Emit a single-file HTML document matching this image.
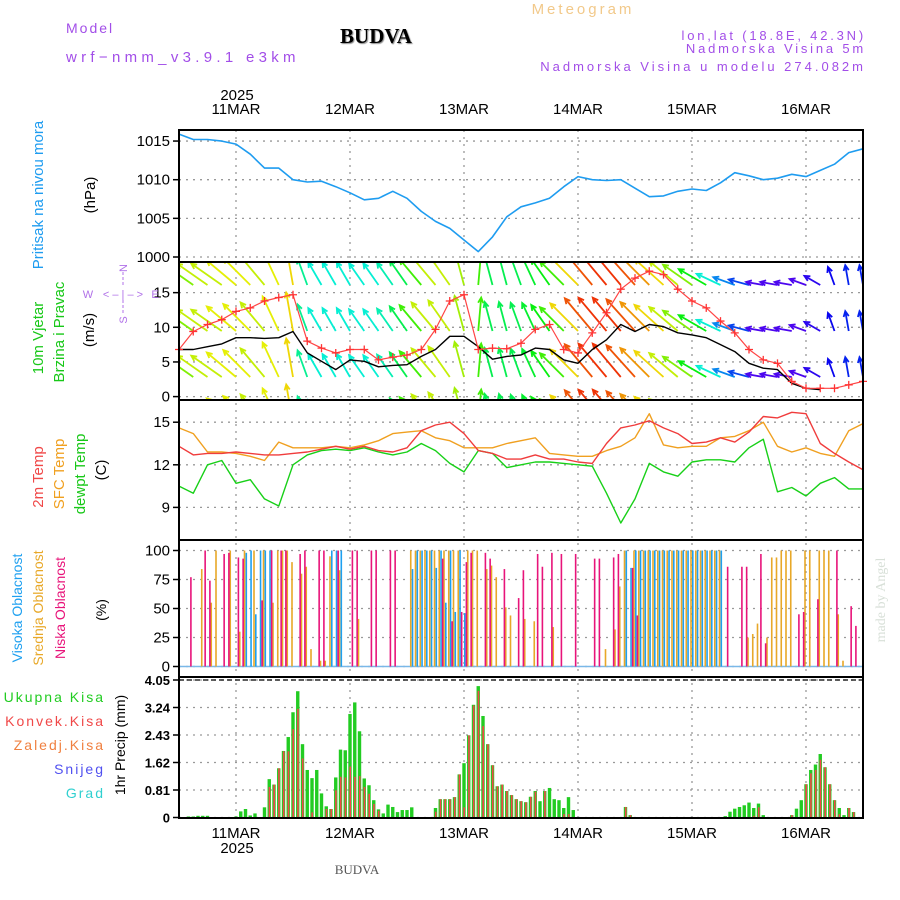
<!DOCTYPE html>
<html><head><meta charset="utf-8"><style>
body{margin:0;background:#fff;}
svg{display:block;font-family:"Liberation Sans",sans-serif;}
</style></head><body>
<svg id="chart" width="900" height="900" viewBox="0 0 900 900" xmlns="http://www.w3.org/2000/svg">
<defs><clipPath id="wclip"><rect x="179" y="263" width="684" height="136"/></clipPath></defs>
<g id="hdr">
<text x="66" y="33" font-size="14" fill="#a24ee8" letter-spacing="2">Model</text>
<text x="66" y="62" font-size="15" fill="#a24ee8" letter-spacing="4.3">wrf−nmm_v3.9.1 e3km</text>
<text x="376" y="43" font-size="21" font-weight="bold" font-family="Liberation Serif,serif" text-anchor="middle" fill="#000" style="text-shadow:1px 1px 1px #888">BUDVA</text>
<text x="583" y="14" font-size="15" fill="#f2c98a" text-anchor="middle" letter-spacing="3">Meteogram</text>
<text x="866" y="40" font-size="13" fill="#a24ee8" text-anchor="end" letter-spacing="2.8">lon,lat (18.8E, 42.3N)</text>
<text x="866" y="53" font-size="13" fill="#a24ee8" text-anchor="end" letter-spacing="2.8">Nadmorska Visina 5m</text>
<text x="866" y="71" font-size="13" fill="#a24ee8" text-anchor="end" letter-spacing="3">Nadmorska Visina u modelu 274.082m</text>
<text x="237" y="100" font-size="15" text-anchor="middle">2025</text>
<text x="237" y="853" font-size="15" text-anchor="middle">2025</text>
<text x="357" y="874" font-size="13" fill="#555" font-family="Liberation Serif,serif" text-anchor="middle">BUDVA</text>
<text transform="translate(885,600) rotate(-90)" font-size="14" fill="#d8e0d8" font-family="Liberation Serif,serif" text-anchor="middle">made by Angel</text>
</g>
<g id="labels"></g>
<g id="grid"></g>
<g id="marks"></g>
<g id="frames"></g>
</svg>
<script>
const dayLabels = ["11MAR","12MAR","13MAR","14MAR","15MAR","16MAR"];
const dayHours = [12,36,60,84,108,132];
const pressure = [1015.9,1015.2,1015.2,1015.0,1014.6,1013.3,1011.5,1011.5,1010.0,1009.7,1009.8,1009.1,1008.3,1007.4,1007.6,1008.5,1007.6,1005.9,1004.6,1003.7,1002.2,1000.7,1002.6,1005.2,1006.5,1007.0,1007.6,1009.1,1010.4,1010.0,1009.9,1010.0,1008.9,1007.8,1007.9,1008.5,1008.8,1008.6,1009.6,1010.9,1010.5,1010.0,1010.2,1010.7,1010.4,1011.2,1012.0,1013.5,1014.0];
const gust = [6.8,9.4,10.4,11.1,12.3,12.8,13.8,14.3,14.7,8.0,7.0,6.3,6.8,6.8,5.3,5.7,6.0,6.8,9.7,13.8,14.7,6.8,7.0,6.9,7.7,9.7,10.4,6.8,6.3,9.2,12.1,15.5,17.1,18.1,17.6,15.5,13.8,12.8,10.9,9.2,6.8,5.3,4.8,2.2,1.2,1.2,1.2,1.7,2.2];
const wspd = [6.8,6.8,7.2,7.6,8.5,8.5,8.4,8.5,9.4,6.3,5.1,3.9,5.3,5.1,4.3,4.5,4.6,5.8,6.8,8.7,8.7,7.2,5.4,5.8,6.0,7.0,6.8,5.3,4.8,6.8,8.2,10.4,9.4,10.4,10.1,9.2,8.9,8.5,7.5,6.5,4.8,4.1,3.9,1.9,1.2,1.0,null,null,null];
const windDir = [-55,-55,-55,-55,-50,-45,-40,-25,-10,-20,-30,-30,-30,-35,-35,-35,-35,-40,-40,-35,-15,5,-15,-15,-20,-25,-35,-45,-45,-40,-40,-40,-42,-45,-48,-50,-55,-60,-65,-70,-75,-80,-80,-80,-70,-60,-20,-10,-10];
const arrowSpd = [12,13,14,14,14.5,14.5,14,14.5,15,9,8,8,8,8,8,8.5,10,12,14,14,13.5,12,10,10,10,10.5,11,12,15,17,17.5,17.5,17,16,15,14,13,11,8,6,5,3,3,3,3,3.5,4,4.5,4.5];
const t2m = [13.3,12.7,12.8,12.8,12.9,12.8,12.7,12.7,12.8,12.9,13.1,13.3,13.1,13.3,13.0,12.9,13.2,14.4,14.8,15.0,14.2,13.0,12.8,12.4,12.4,12.7,12.4,12.4,12.2,12.1,13.5,14.6,14.8,15.1,14.6,14.2,13.5,13.6,13.9,13.6,14.3,15.4,15.3,15.7,15.6,13.5,12.8,12.2,11.65];
const tsfc = [14.6,14.2,12.9,12.9,12.8,12.6,12.3,13.6,13.2,13.2,13.2,13.3,13.2,13.4,13.7,14.2,14.3,14.4,13.9,13.7,13.2,13.2,13.2,13.5,13.7,13.9,12.8,12.7,12.6,12.6,13.0,13.3,13.9,15.6,13.4,13.2,13.3,13.3,13.9,14.0,14.4,15.0,13.3,12.9,13.2,12.8,12.6,14.4,14.9];
const tdew = [10.5,10.0,12.0,12.3,10.7,10.95,9.6,9.1,12.0,12.7,13.0,13.1,13.0,13.2,12.9,12.7,12.9,13.5,13.0,12.1,11.5,13.0,12.8,11.8,12.0,12.2,12.2,12.1,12.0,11.9,10.0,7.9,9.6,12.1,11.5,11.2,12.2,12.35,12.35,12.2,13.2,13.8,10.1,10.4,9.8,10.7,11.1,10.3,10.3];
const highHours = [14,15,16,17,18,19,32,33,34,49,50,51,52,53,54,55,56,57,58,59,60,94,95,96,97,98,99,100,101,102,103,104,105,106,107,108,109,110,111,112,113,114];
const highVals  = [98,100,45,100,100,100,100,100,100,84,100,100,100,100,85,100,55,100,47,100,46,100,85,100,100,100,100,100,100,100,100,100,100,100,100,100,100,100,100,100,100,100];
const midHours = [5,7,8,11,13,14,16,18,20,21,22,23,24,26,27,28,30,31,32,34,38,49,50,51,52,53,54,55,56,57,58,59,61,62,63,65,66,67,69,70,73,75,79,90,92,93,94,96,97,98,99,100,101,102,103,104,105,106,107,108,109,110,111,112,113,114,120,121,122,124,125,126,127,128,129,132,133,135,136,137,139,140];
const midVals  = [84,55,100,100,30,100,100,100,55,100,100,100,90,80,86,15,5,5,95,83,41,100,100,100,100,100,100,100,100,100,100,100,100,100,100,84,87,77,51,44,41,39,34,15,32,69,100,100,100,100,100,100,100,100,100,100,100,100,100,100,100,100,100,100,100,100,25,28,37,25,94,94,100,100,100,100,100,100,100,100,45,5];
const lowHours = [2,5,6,9,10,12,13,17,19,21,22,25,26,29,30,33,36,37,40,41,44,45,55,57,59,60,61,64,65,68,71,72,75,76,78,80,83,87,88,91,92,95,96,115,118,119,122,123,130,131,134,138,141,142];
const lowVals  = [77,100,74,97,98,94,93,57,100,100,100,97,100,100,100,100,100,100,100,100,100,100,93,39,47,90,98,98,93,84,59,83,97,86,98,97,97,93,93,94,97,85,44,86,86,86,97,20,45,47,58,100,52,35];
const precipHours = [2,3,4,5,6,12,13,14,15,16,18,19,20,21,22,23,24,25,26,27,28,29,30,31,32,33,34,35,36,37,38,39,40,41,42,43,44,45,46,47,48,49,54,55,56,57,58,59,60,61,62,63,64,65,66,67,68,69,70,71,72,73,74,75,76,77,78,79,80,81,82,83,88,94,95,115,116,117,118,119,120,121,122,123,129,130,131,132,133,134,135,136,137,138,139,140,141,142];
const precipTotal = [0.03,0.03,0.05,0.05,0.05,0.03,0.18,0.25,0.06,0.12,0.3,1.13,0.97,1.45,1.96,2.37,3.1,3.72,2.16,1.4,1.16,1.4,0.71,0.33,0.25,1.18,2.0,1.98,3.05,3.39,2.54,1.15,0.95,0.51,0.24,0.12,0.38,0.31,0.16,0.22,0.22,0.3,0.28,0.54,0.54,0.54,0.6,1.27,1.6,2.42,3.32,3.87,2.99,2.16,1.54,0.92,0.97,0.78,0.66,0.54,0.48,0.45,0.61,0.78,0.48,0.78,0.87,0.54,0.51,0.28,0.6,0.22,0.01,0.31,0.07,0.04,0.17,0.26,0.31,0.36,0.44,0.28,0.41,0.07,0.07,0.26,0.51,0.98,1.4,1.56,1.87,1.48,0.98,0.51,0.28,0.07,0.28,0.16];
const precipConv = [0,0,0,0,0,0,0,0,0,0,0,0.9,0.97,1.45,1.95,1.95,2.6,3.2,1.74,0,0.15,0,0,0.25,0.25,0.8,1.2,1.18,1.5,1.2,1.22,0.9,0.7,0.4,0.2,0,0,0,0,0,0,0,0.17,0.54,0.54,0.54,0.6,1.27,0.3,2.42,3.3,3.73,2.69,2.16,1.54,0.92,0.97,0.78,0.66,0.54,0.48,0.45,0.61,0.76,0,0.78,0,0,0,0.1,0.1,0,0.01,0.31,0.07,0,0,0,0,0,0,0.05,0.3,0,0.07,0,0,0.98,1.3,1.4,1.7,1.48,0.98,0.51,0.1,0,0.28,0.16];
const pTicks=[1000,1005,1010,1015], wTicks=[0,5,10,15], tTicks=[9,12,15], cTicks=[0,25,50,75,100], rTicks=[0,0.81,1.62,2.43,3.24,4.05];

const NS="http://www.w3.org/2000/svg";
function mk(parent,tag,attrs,txt){const e=document.createElementNS(NS,tag);for(const k in attrs)e.setAttribute(k,attrs[k]);if(txt!==undefined)e.textContent=txt;parent.appendChild(e);return e;}
const X0=179,X1=863,HRS=144;
const xh=i=>X0+i*(X1-X0)/HRS;
const xk=k=>xh(k*3);
const yP=v=>257-(v-1000)*7.73;
const yW=v=>396.6-v*6.93;
const yT=v=>464.8-(v-12)*14.2;
const yC=v=>666.5-v*1.16;
const yR=v=>817.5-v*33.95;
const grid=document.getElementById('grid'),marks=document.getElementById('marks'),frames=document.getElementById('frames'),labels=document.getElementById('labels');
const panels=[[130,262],[262,400],[400,540],[540,677],[677,818]];
dayHours.forEach((h,j)=>{
  const l=mk(grid,'line',{x1:xh(h),x2:xh(h),y1:130,y2:818,stroke:'#999','stroke-dasharray':'2,5','stroke-width':1.3});
  
  
  const t=mk(labels,'text',{x:xh(h),y:114,'font-size':15,'text-anchor':'middle'},dayLabels[j]);
  
  
  const b=mk(labels,'text',{x:xh(h),y:838,'font-size':15,'text-anchor':'middle'},dayLabels[j]);
  
  
});
function yaxis(ticks,fy,fmt,name,bold){
  ticks.forEach(v=>{
    const y=fy(v);
    const g=mk(grid,'line',{x1:X0,x2:X1,y1:y,y2:y,stroke:'#999','stroke-dasharray':'2,5','stroke-width':1.3});
    
    
    mk(frames,'line',{x1:X0-6,x2:X0,y1:y,y2:y,stroke:'#000','stroke-width':1.5});
    const t=mk(labels,'text',{x:X0-9,y:y+5,'font-size':bold?13:15,'font-weight':bold?'bold':'normal','text-anchor':'end'},fmt(v));
    
    
  });
}
yaxis(pTicks,yP,v=>v,'pressure');
yaxis(wTicks,yW,v=>v,'wind');
yaxis(tTicks,yT,v=>v,'temp');
yaxis(cTicks,yC,v=>v,'cloud');
yaxis(rTicks,yR,v=>v===0?'0':v.toFixed(2),'precip',true);
panels.forEach(p=>{
  const r=mk(frames,'rect',{x:X0,y:p[0],width:X1-X0,height:p[1]-p[0],fill:'none',stroke:'#000','stroke-width':2});
  
  
});
mk(frames,'line',{x1:X0,x2:X1,y1:680,y2:680,stroke:'#000','stroke-dasharray':'5,3','stroke-width':1.2});
function line(arr,fx,fy,color,name,w){
  let d='';let pen=false;
  arr.forEach((v,k)=>{if(v===null){pen=false;return;}d+=(pen?'L':'M')+fx(k).toFixed(1)+','+fy(v).toFixed(1);pen=true;});
  const p=mk(marks,'path',{d:d,fill:'none',stroke:color,'stroke-width':w||1.5,'stroke-linejoin':'round'});
  
  
  return p;
}
line(pressure,xk,yP,'#1e9cf0','pressure-line',1.6);
const wg=mk(marks,'g',{'clip-path':'url(#wclip)'});


const rows=[285,331,377,423];
rows.forEach(by=>{
  windDir.forEach((d,k)=>{
    const s=arrowSpd[k];
    const hue=Math.max(0,Math.min(275,275-(s-2)*17));
    const col='hsl('+hue+',95%,48%)';
    const len=12+s*1.8, a=d*Math.PI/180;
    const x=xk(k),tx=x+len*Math.sin(a),ty=by-len*Math.cos(a);
    const ah=6,b1=a+Math.PI-0.45,b2=a+Math.PI+0.45;
    const g=mk(wg,'path',{d:`M${x},${by}L${tx},${ty}M${tx+ah*Math.sin(b1)},${ty-ah*Math.cos(b1)}L${tx},${ty}L${tx+ah*Math.sin(b2)},${ty-ah*Math.cos(b2)}`,stroke:col,'stroke-width':1.8,fill:'none'});
    
    
  });
});
line(wspd,xk,yW,'#000','wind-speed-line',1.4);
line(gust,xk,yW,'#f44','wind-gust-line',1.2);
gust.forEach((v,k)=>{
  const x=xk(k),y=yW(v);
  const m=mk(marks,'path',{d:`M${x-4},${y}H${x+4}M${x},${y-4}V${y+4}`,stroke:'#f33','stroke-width':1.3});
  
  
});
line(tdew,xk,yT,'#18d018','dewpoint-line',1.4);
line(tsfc,xk,yT,'#f0a020','sfc-temp-line',1.4);
line(t2m,xk,yT,'#f03c3c','t2m-line',1.4);
mk(marks,'line',{x1:X0,x2:X1,y1:666.5,y2:666.5,stroke:'#7ab8e8','stroke-width':1.5});
function bars(hours,vals,off,color,name){
  hours.forEach((h,j)=>{
    const x=xh(h)+off;
    const r=mk(marks,'rect',{x:x,y:yC(vals[j]),width:1.6,height:666.5-yC(vals[j]),fill:color});
    
    
  });
}
bars(midHours,midVals,-1.8,'#e8a828','mid-cloud-bar');
bars(highHours,highVals,0,'#1ea0f0','high-cloud-bar');
bars(lowHours,lowVals,1.6,'#e8147a','low-cloud-bar');
precipHours.forEach((h,j)=>{
  const x=xh(h);
  const t=mk(marks,'rect',{x:x-1.7,y:yR(precipTotal[j]),width:3.4,height:817.5-yR(precipTotal[j]),fill:'#22cc22'});
  
  
  if(precipConv[j]>0){
    const c=mk(marks,'rect',{x:x-0.6,y:yR(precipConv[j]),width:1.6,height:817.5-yR(precipConv[j]),fill:'#f04848'});
    
    
  }
});
function vlab(x,y,txt,color,name,size){
  const t=mk(labels,'text',{transform:`translate(${x},${y}) rotate(-90)`,'font-size':size||15,fill:color,'text-anchor':'middle'},txt);
  
  
}
vlab(43,195,'Pritisak na nivou mora','#1e9cf0','pressure-title');
vlab(95,195,'(hPa)','#000','pressure-unit');
vlab(43,338,'10m Vjetar','#18c818','wind-title');
vlab(64,332,'Brzina i Pravac','#18c818','wind-subtitle');
vlab(94,330,'(m/s)','#000','wind-unit');
vlab(43,477,'2m Temp','#f04848','t2m-title');
vlab(64,474,'SFC Temp','#f0a020','sfc-temp-title');
vlab(85,474,'dewpt Temp','#18c818','dewpoint-title');
vlab(106,470,'(C)','#000','temp-unit');
vlab(22,608,'Visoka Oblacnost','#1ea0f0','high-cloud-title',14);
vlab(43,608,'Srednja Oblacnost','#e8a828','mid-cloud-title',14);
vlab(65,608,'Niska Oblacnost','#e8147a','low-cloud-title',14);
vlab(106,610,'(%)','#000','cloud-unit',14);
vlab(125,745,'1hr Precip (mm)','#000','precip-title',14);
[['Ukupna Kisa','#22cc22',702],['Konvek.Kisa','#f04848',726],['Zaledj.Kisa','#f08040',750],['Snijeg','#5050f0',774],['Grad','#30d0d0',798]].forEach(a=>{
  const t=mk(labels,'text',{x:105,y:a[2],'font-size':14,fill:a[1],'text-anchor':'end','letter-spacing':'2'},a[0]);
  
  
});
const cg=mk(labels,'g',{fill:'#b070e8','font-size':11,'text-anchor':'middle'});


mk(cg,'text',{x:88,y:298},'W');
mk(cg,'text',{x:123,y:298},'<  – |  – >');
mk(cg,'text',{x:155,y:298},'E');
mk(cg,'text',{transform:'translate(127,268) rotate(-90)'},'N');
mk(cg,'text',{transform:'translate(127,320) rotate(-90)'},'S');
mk(cg,'line',{x1:123,x2:123,y1:272,y2:286,stroke:'#b070e8','stroke-dasharray':'3,2'});
mk(cg,'line',{x1:123,x2:123,y1:300,y2:314,stroke:'#b070e8','stroke-dasharray':'3,2'});
</script>
</body></html>
